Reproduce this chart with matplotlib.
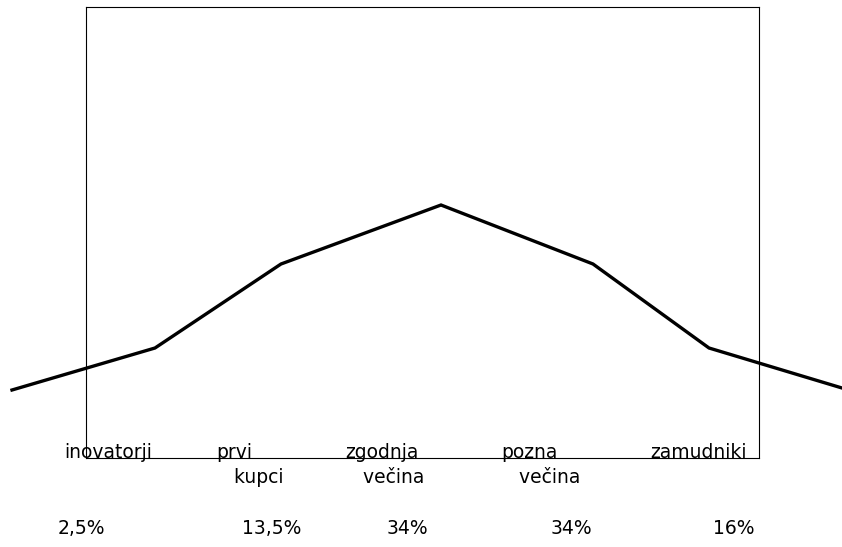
import matplotlib.pyplot as plt

# adopter curve (x, height) in box units
curve_x = [-74, 69, 195, 355, 507, 623, 756]
curve_y = [68, 110, 194, 253, 194, 110, 70]

groups = ['inovatorji', 'prvi\n   kupci', 'zgodnja\n   večina', 'pozna\n   večina', 'zamudniki']
group_x = [64, 216, 345, 501, 650]
shares = ['2,5%', '13,5%', '34%', '34%', '16%']
share_x = [58, 242, 387, 551, 713]

W, H = 842, 547
fig = plt.figure(figsize=(W / 100, H / 100), dpi=100)
ax = fig.add_axes([86 / W, (H - 458) / H, (759 - 86) / W, (458 - 7) / H])
ax.set_xlim(0, 673)
ax.set_ylim(0, 451)
ax.set_xticks([])
ax.set_yticks([])
for s in ax.spines.values():
    s.set_linewidth(0.8)

ax.plot(curve_x, curve_y, color='black', lw=2.4, clip_on=False, solid_joinstyle='miter')

for lab, x in zip(groups, group_x):
    fig.text(x / W, 1 - 443 / H, lab, ha='left', va='top', fontsize=13.5, linespacing=1.38)
for lab, x in zip(shares, share_x):
    fig.text(x / W, 1 - 529 / H, lab, ha='left', va='center', fontsize=13.5)

fig.savefig('out.png', dpi=100)
